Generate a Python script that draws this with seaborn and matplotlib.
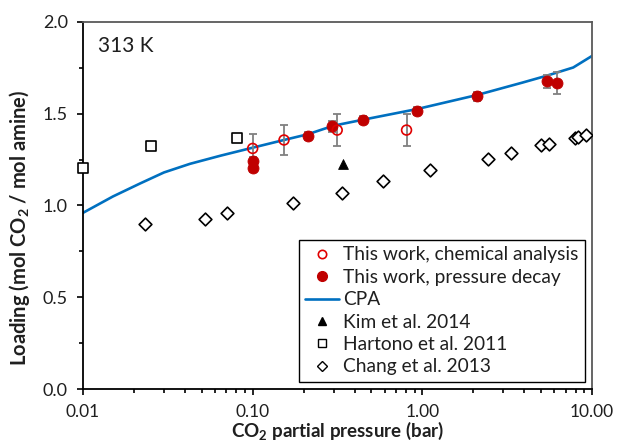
import numpy as np
import pandas as pd
import matplotlib
matplotlib.use("Agg")
import matplotlib.pyplot as plt
from matplotlib.ticker import (FixedLocator, FixedFormatter, MultipleLocator,
                               NullFormatter, FormatStrFormatter)
from matplotlib.lines import Line2D
import seaborn as sns

# --- data -------------------------------------------------------------
chem_p = [0.10, 0.153, 0.315, 0.807]
chem_load = [1.311, 1.357, 1.411, 1.411]
chem_err = [0.08, 0.08, 0.087, 0.087]

decay_p = [0.10, 0.10, 0.211, 0.292, 0.449, 0.933, 2.106, 5.40, 6.18]
decay_load = [1.245, 1.205, 1.379, 1.431, 1.466, 1.515, 1.594, 1.676, 1.667]
decay_err = [0.02, 0.02, 0.02, 0.03, 0.02, 0.02, 0.025, 0.035, 0.06]

cpa_p = [0.01, 0.015, 0.0217, 0.03, 0.0427, 0.065, 0.1, 0.153, 0.211, 0.3,
         0.45, 0.925, 2.1, 3.9, 5.4, 7.75, 10.0]
cpa_load = [0.96, 1.049, 1.12, 1.18, 1.227, 1.272, 1.315, 1.357, 1.388, 1.435,
            1.468, 1.525, 1.602, 1.67, 1.707, 1.752, 1.815]

kim_p = [0.339]
kim_load = [1.227]

hartono_p = [0.01, 0.0251, 0.0805]
hartono_load = [1.207, 1.326, 1.368]

chang_p = [0.0232, 0.0521, 0.0703, 0.173, 0.336, 0.588, 1.109, 2.436, 3.33,
           5.02, 5.59, 7.96, 8.26, 9.2]
chang_load = [0.897, 0.926, 0.960, 1.016, 1.067, 1.136, 1.196, 1.255, 1.286,
              1.328, 1.335, 1.368, 1.375, 1.386]

x_ticks = [0.01, 0.1, 1, 10]
x_tick_labels = ["0.01", "0.10", "1.00", "10.00"]

# --- style ------------------------------------------------------------
sns.set_theme(style="white")
plt.rcParams["font.family"] = ["Lato", "DejaVu Sans"]
plt.rcParams["mathtext.default"] = "regular"

RED = "#C00000"
OPEN_RED = "#E00000"
BLUE = "#0070C0"
GREY = "#808080"
TEXT = "#1f1f1f"

fig = plt.figure(figsize=(6.17, 4.46), dpi=100)
ax = fig.add_axes([0.1345, 0.1278, 0.9595 - 0.1345, 0.9507 - 0.1278])

# CPA model curve
sns.lineplot(x=cpa_p, y=cpa_load, ax=ax, color=BLUE, lw=1.9, zorder=2,
             estimator=None, sort=False)

# error bars for this work
ax.errorbar(chem_p, chem_load, yerr=chem_err, fmt="none", ecolor=GREY,
            elinewidth=1.3, capsize=2.7, capthick=1.3, zorder=3)
ax.errorbar(decay_p, decay_load, yerr=decay_err, fmt="none", ecolor=GREY,
            elinewidth=1.3, capsize=2.7, capthick=1.3, zorder=3)

# literature data
sns.scatterplot(x=chang_p, y=chang_load, ax=ax, marker="D", s=42,
                facecolor="white", edgecolor="black", linewidth=1.2, zorder=4)
sns.scatterplot(x=hartono_p, y=hartono_load, ax=ax, marker="s", s=52,
                facecolor="white", edgecolor="black", linewidth=1.2, zorder=4,
                clip_on=False)
sns.scatterplot(x=kim_p, y=kim_load, ax=ax, marker="^", s=50,
                color="black", edgecolor="black", zorder=4)

# this work
sns.scatterplot(x=decay_p, y=decay_load, ax=ax, marker="o", s=62,
                color=RED, edgecolor=RED, zorder=5)
sns.scatterplot(x=chem_p, y=chem_load, ax=ax, marker="o", s=50,
                facecolor="none", edgecolor=OPEN_RED, linewidth=1.2, zorder=6)

# --- axes -------------------------------------------------------------
ax.set_xscale("log")
ax.set_xlim(0.01, 10)
ax.set_ylim(0, 2.0)
ax.xaxis.set_major_locator(FixedLocator(x_ticks))
ax.xaxis.set_major_formatter(FixedFormatter(x_tick_labels))
ax.xaxis.set_minor_formatter(NullFormatter())
ax.yaxis.set_major_locator(MultipleLocator(0.5))
ax.yaxis.set_minor_locator(MultipleLocator(0.25))
ax.yaxis.set_major_formatter(FormatStrFormatter("%.1f"))

ax.tick_params(axis="both", which="major", direction="out", length=4.5,
               width=1.2, color="black", labelsize=13, labelcolor=TEXT,
               bottom=True, left=True)
ax.tick_params(axis="both", which="minor", direction="out", length=3,
               width=1.2, color="black", bottom=True, left=True)
ax.tick_params(axis="x", which="major", pad=6, labelsize=12.5)
ax.tick_params(axis="y", which="major", pad=6.5)

for side in ("left", "bottom"):
    ax.spines[side].set_color("black")
    ax.spines[side].set_linewidth(1.3)
for side in ("top", "right"):
    ax.spines[side].set_color("#595959")
    ax.spines[side].set_linewidth(1.3)

ax.set_xlabel("CO$_2$ partial pressure (bar)", fontsize=13.5, fontweight="bold",
              color=TEXT, labelpad=0)
ax.set_ylabel("Loading (mol CO$_2$ / mol amine)", fontsize=14.5,
              fontweight="bold", color=TEXT)
ax.yaxis.set_label_coords(-0.10, 0.439)

ax.text(0.03, 0.935, "313 K", transform=ax.transAxes, fontsize=15,
        color=TEXT, va="center", ha="left")

# --- legend -----------------------------------------------------------
handles = [
    Line2D([], [], ls="none", marker="o", ms=6, mfc="none", mec=OPEN_RED, mew=1.2),
    Line2D([], [], ls="none", marker="o", ms=7, mfc=RED, mec=RED),
    Line2D([], [], color=BLUE, lw=1.9),
    Line2D([], [], ls="none", marker="^", ms=6, mfc="black", mec="black"),
    Line2D([], [], ls="none", marker="s", ms=6, mfc="white", mec="black", mew=1.0),
    Line2D([], [], ls="none", marker="D", ms=5, mfc="white", mec="black", mew=1.0),
]
labels = ["This work, chemical analysis", "This work, pressure decay", "CPA",
          "Kim et al. 2014", "Hartono et al. 2011", "Chang et al. 2013"]
leg = ax.legend(handles, labels, loc="lower right", bbox_to_anchor=(0.986, 0.019),
                fontsize=13.8, frameon=True, fancybox=False, framealpha=1,
                edgecolor="black", handlelength=1.75, handletextpad=0.2,
                labelspacing=0.28, borderpad=0.35, borderaxespad=0)
leg.get_frame().set_linewidth(1.0)
for t in leg.get_texts():
    t.set_color(TEXT)

fig.savefig("out.png", dpi=100)
